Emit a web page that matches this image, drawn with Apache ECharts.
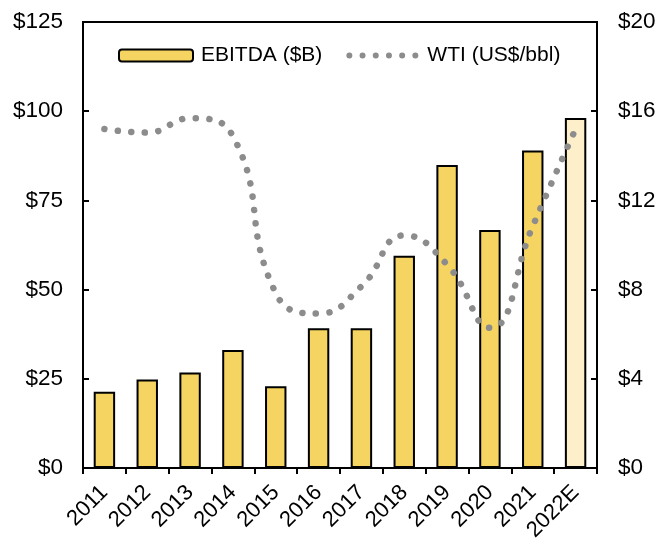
<!DOCTYPE html>
<html>
<head>
<meta charset="utf-8">
<script src="https://cdn.jsdelivr.net/npm/echarts@6/dist/echarts.min.js"></script>
<style>
html,body{margin:0;padding:0;background:#fff;}
#chart{width:657px;height:539px;}
</style>
</head>
<body>
<div id="chart"></div>
<script>
const categories = ['2011','2012','2013','2014','2015','2016','2017','2018','2019','2020','2021','2022E'];
const ebitda = [21.4, 24.8, 26.8, 33.1, 22.9, 39.2, 39.2, 59.5, 84.9, 66.7, 89.0, 98.1];
const wti = [95, 94, 98, 93, 49, 43.3, 50.9, 65.2, 57, 39.3, 67.8, 95];
const leftTicks = {min: 0, max: 125, interval: 25};
const rightTicks = {min: 0, max: 20, interval: 4};

const FONT = 'Liberation Sans, Arial, sans-serif';
const barColor = '#F5D461';
const estColor = '#FCEFC9';
const lineColor = '#8C8C8C';

// legend icon: six round dots
let dotsPath = 'path://M0 0M74 12';
for (let k = 0; k < 6; k++) {
  const cx = 4 + k * 13.2;
  dotsPath += 'M' + (cx - 3) + ' 6a3 3 0 1 0 6 0a3 3 0 1 0 -6 0Z';
}

const chart = echarts.init(document.getElementById('chart'));
chart.setOption({
  animation: false,
  textStyle: {fontFamily: FONT},
  grid: {left: 83, right: 60, top: 22, bottom: 71, show: true, borderColor: '#000', borderWidth: 2,
         outerBoundsMode: 'none', containLabel: false},
  legend: {
    left: 118, top: 45, padding: 0,
    itemWidth: 74, itemHeight: 12, itemGap: 23,
    textStyle: {fontSize: 21, color: '#000', fontFamily: FONT, padding: [0, 0, 0, 3]},
    data: [
      {name: 'EBITDA ($B)'},
      {name: 'WTI (US$/bbl)', icon: dotsPath, itemStyle: {color: lineColor, borderWidth: 0}}
    ]
  },
  xAxis: {
    type: 'category',
    data: categories,
    axisLine: {lineStyle: {color: '#000', width: 2}},
    axisTick: {show: true, length: 6, lineStyle: {color: '#000', width: 2}},
    axisLabel: {rotate: 45, interval: 0, fontSize: 22, color: '#000', margin: 21, fontFamily: FONT},
    splitLine: {show: false}
  },
  yAxis: [
    {
      type: 'value', min: leftTicks.min, max: leftTicks.max, interval: leftTicks.interval,
      axisLine: {show: true, lineStyle: {color: '#000', width: 2}},
      axisTick: {show: true, inside: true, length: 6, lineStyle: {color: '#000', width: 2}},
      axisLabel: {fontSize: 22.5, color: '#000', margin: 20, fontFamily: FONT, formatter: v => '$' + v},
      splitLine: {show: false}
    },
    {
      type: 'value', position: 'right', min: rightTicks.min, max: rightTicks.max, interval: rightTicks.interval,
      axisLine: {show: true, lineStyle: {color: '#000', width: 2}},
      axisTick: {show: true, inside: true, length: 6, lineStyle: {color: '#000', width: 2}},
      axisLabel: {fontSize: 22.5, color: '#000', margin: 21, fontFamily: FONT, formatter: v => '$' + v},
      splitLine: {show: false}
    }
  ],
  series: [
    {
      name: 'EBITDA ($B)',
      type: 'bar',
      yAxisIndex: 0,
      barCategoryGap: '50%',
      itemStyle: {color: barColor, borderColor: '#000', borderWidth: 2},
      data: ebitda.map((v, i) => categories[i].endsWith('E') ? {value: v, itemStyle: {color: estColor}} : v),
      z: 2
    },
    {
      name: 'WTI (US$/bbl)',
      type: 'line',
      yAxisIndex: 0,
      smooth: 0.5,
      symbol: 'none',
      lineStyle: {color: lineColor, width: 6.5, type: [0.1, 13.4], cap: 'round'},
      itemStyle: {color: lineColor},
      data: wti,
      z: 3
    }
  ]
});
</script>
</body>
</html>
